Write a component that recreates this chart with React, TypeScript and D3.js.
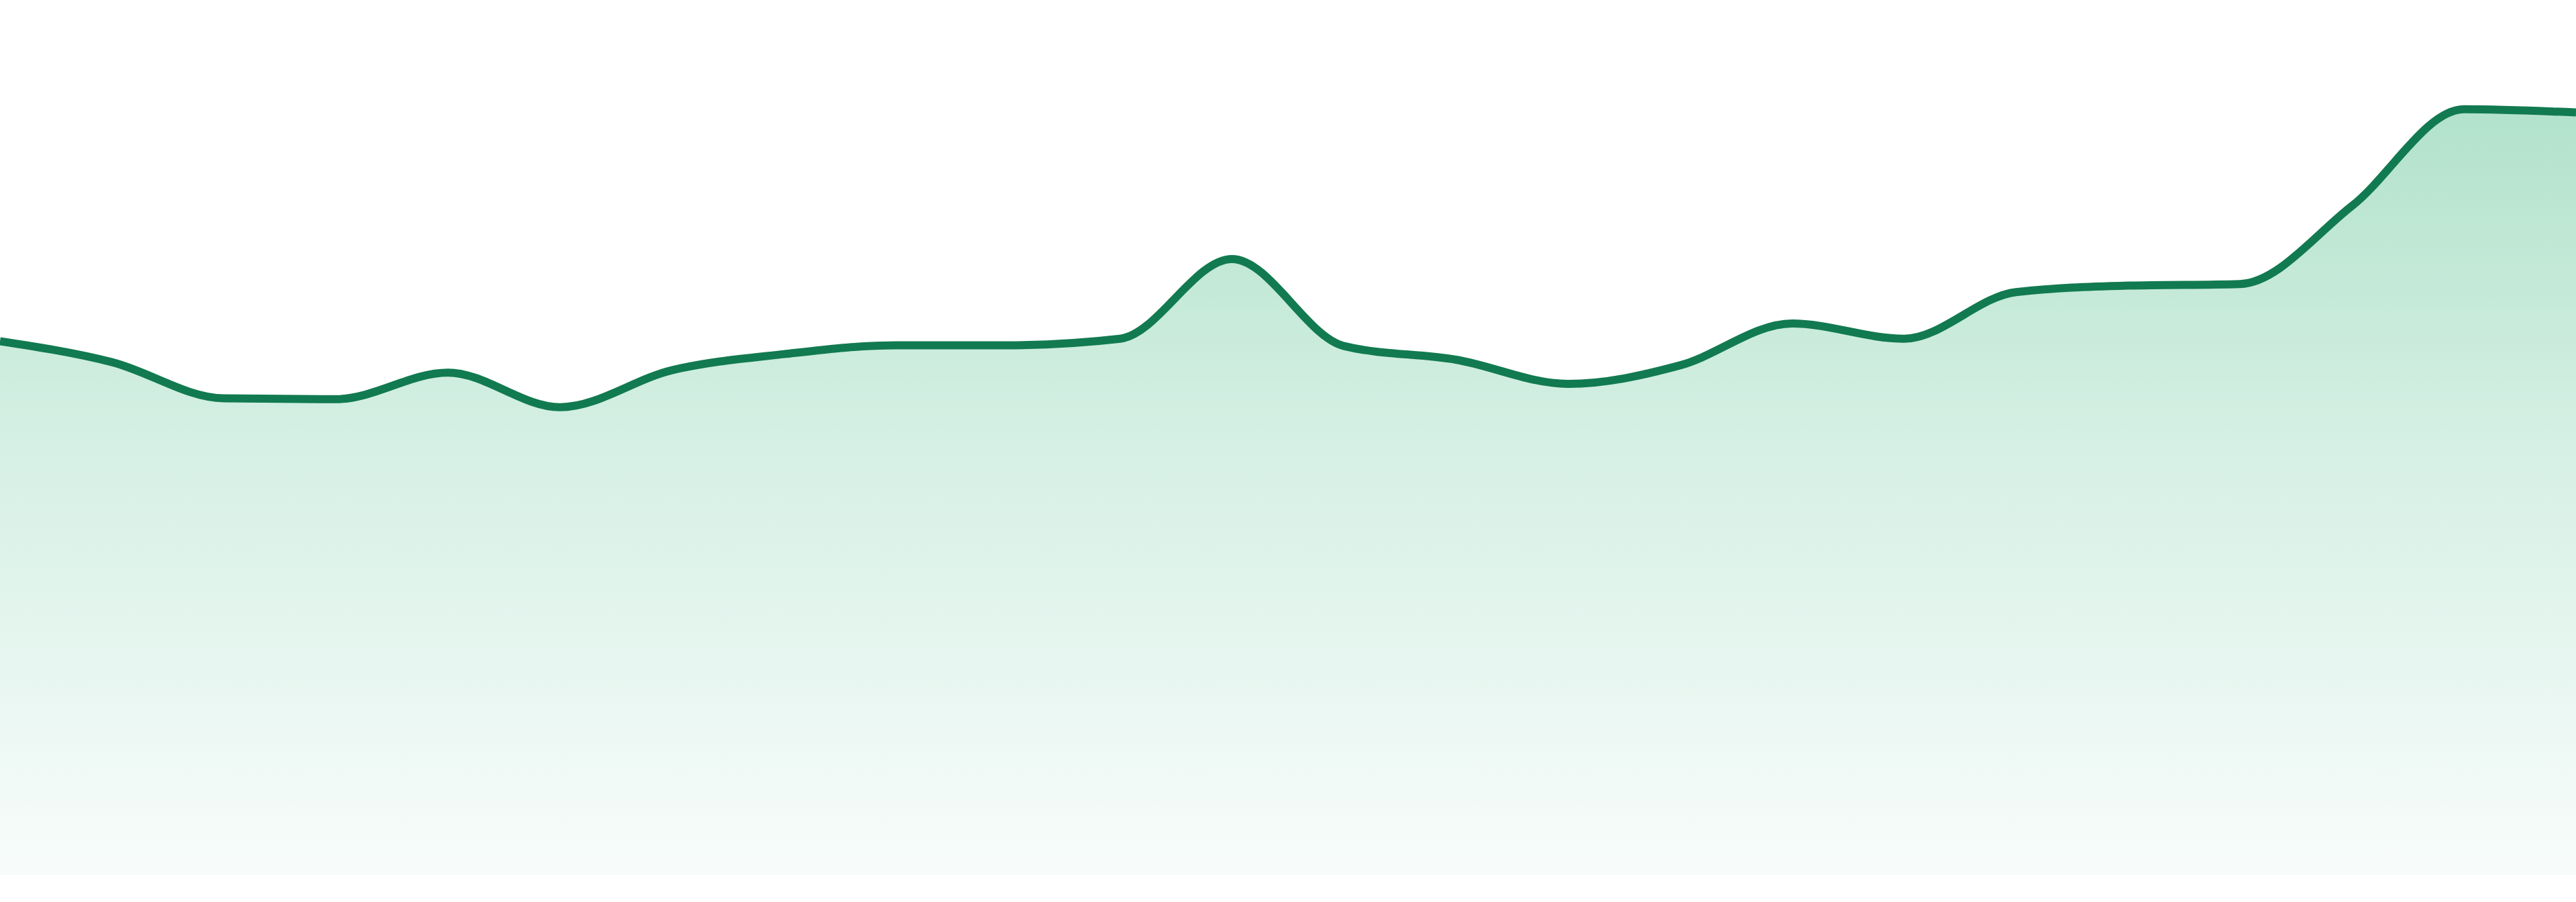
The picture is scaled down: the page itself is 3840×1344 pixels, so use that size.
import { useEffect, useRef } from "react";
import { select, scaleLinear, scalePoint, area, line, curveMonotoneX } from "d3";

const width = 3840;
const height = 1344;

// one value per step, left edge to right edge
const labels = [
  "1", "2", "3", "4", "5", "6", "7", "8", "9", "10", "11", "12",
  "13", "14", "15", "16", "17", "18", "19", "20", "21", "22", "23", "24",
];
const values = [
  66.3, 63.7, 59.2, 59.1, 62.4, 58.1, 62.7, 64.7, 65.8, 65.8, 66.6, 76.5,
  65.7, 64.0, 61.0, 63.3, 68.5, 66.6, 72.4, 73.2, 73.4, 83.1, 95.1, 94.7,
];

const lineColor = "#127a50";

export default function App() {
  const svgRef = useRef<SVGSVGElement>(null);

  useEffect(() => {
    const svg = select(svgRef.current);
    svg.selectAll("*").remove();

    const x = scalePoint<string>().domain(labels).range([0, width]);
    const y = scaleLinear().domain([0, 100]).range([1304, 104]);

    const defs = svg.append("defs");
    const grad = defs
      .append("linearGradient")
      .attr("id", "fillGrad")
      .attr("gradientUnits", "userSpaceOnUse")
      .attr("x1", 0)
      .attr("x2", 0)
      .attr("y1", y(Math.max(...values)))
      .attr("y2", y(0));
    grad.append("stop").attr("offset", 0).attr("stop-color", "#b2e2cb");
    grad.append("stop").attr("offset", 0.45).attr("stop-color", "#d6f0e5");
    grad.append("stop").attr("offset", 1).attr("stop-color", "#f8fcfb");

    const pts = labels.map((l, i) => ({ l, v: values[i] }));

    // filled area under the curve
    const areaGen = area<{ l: string; v: number }>()
      .x((d) => x(d.l) as number)
      .y0(y(0))
      .y1((d) => y(d.v))
      .curve(curveMonotoneX);

    svg
      .append("path")
      .datum(pts)
      .attr("d", areaGen)
      .attr("fill", "url(#fillGrad)");

    const lineGen = line<{ l: string; v: number }>()
      .x((d) => x(d.l) as number)
      .y((d) => y(d.v))
      .curve(curveMonotoneX);

    svg
      .append("path")
      .datum(pts)
      .attr("d", lineGen)
      .attr("fill", "none")
      .attr("stroke", lineColor)
      .attr("stroke-width", 12)
      .attr("stroke-linejoin", "round");
  }, []);

  return (
    <div style={{ position: "absolute", left: 0, top: 0, width, height, background: "#fff" }}>
      <svg ref={svgRef} width={width} height={height} style={{ display: "block" }} />
    </div>
  );
}
